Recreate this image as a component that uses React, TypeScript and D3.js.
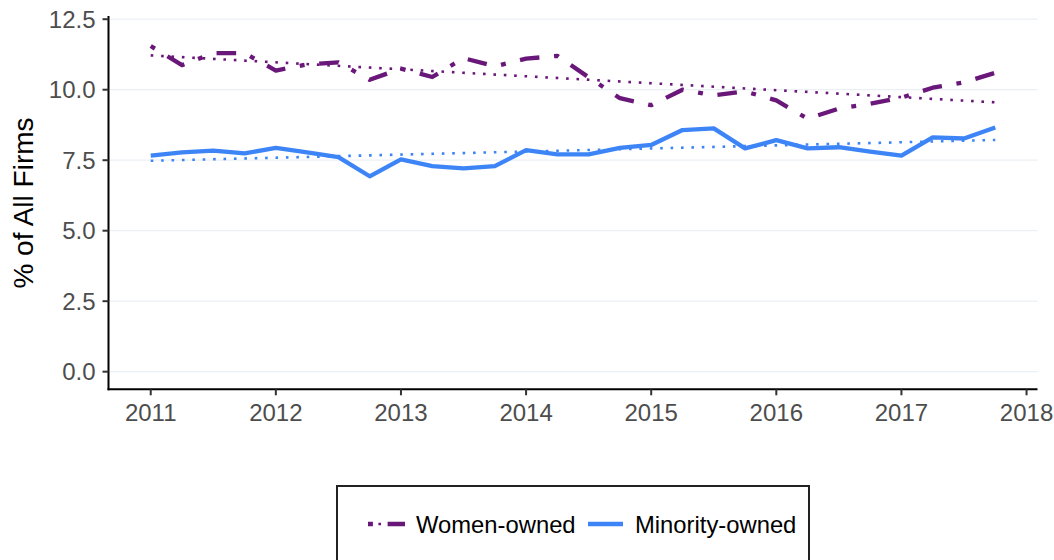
import * as d3 from 'd3';

const WIDTH = 1054;
const HEIGHT = 560;

// quarterly observations, 2011 Q1 .. 2017 Q4
const quarters = d3.range(28).map((i) => 2011 + i * 0.25);

const womenOwned = [
    11.55, 10.87, 11.3, 11.3, 10.68, 10.9, 10.97, 10.35,
    10.75, 10.45, 11.12, 10.83, 11.1, 11.2, 10.44, 9.7,
    9.45, 10.0, 9.8, 9.94, 9.62, 8.97, 9.33, 9.5,
    9.72, 10.07, 10.26, 10.6,
];

const minorityOwned = [
    7.66, 7.78, 7.84, 7.74, 7.94, 7.78, 7.61, 6.93,
    7.53, 7.29, 7.21, 7.29, 7.86, 7.71, 7.71, 7.94,
    8.04, 8.57, 8.63, 7.92, 8.21, 7.92, 7.96, 7.8,
    7.66, 8.31, 8.27, 8.66,
];

const xTicks = [2011, 2012, 2013, 2014, 2015, 2016, 2017, 2018];
const yTicks = [0, 2.5, 5, 7.5, 10, 12.5];

const PURPLE = '#6a177a';
const BLUE = '#3d85f7';
const DOTDASH = '4.9 14.7 19.6 14.7';
const DOTTED = '2.6 7.8';

// plain least squares fit, like geom_smooth(method = "lm", se = FALSE)
function linearFit(xs: number[], ys: number[]) {
    const mx = d3.mean(xs) as number;
    const my = d3.mean(ys) as number;
    let num = 0;
    let den = 0;
    xs.forEach((x, i) => {
        num += (x - mx) * (ys[i] - my);
        den += (x - mx) * (x - mx);
    });
    const slope = num / den;
    return (x: number) => my + slope * (x - mx);
}

const App = () => {
    const xScale = d3.scaleLinear().domain([2010.6625, 2018.0875]).range([108.5, 1037.5]);
    const yScale = d3.scaleLinear().domain([-0.625, 13.125]).range([389.3, 1.6]);

    const line = d3.line<number>()
        .x((_, i) => xScale(quarters[i]))
        .y((d) => yScale(d));

    const series = [
        { name: 'Women-owned', values: womenOwned, color: PURPLE, dash: DOTDASH },
        { name: 'Minority-owned', values: minorityOwned, color: BLUE, dash: null },
    ];

    const trendX = [quarters[0], quarters[quarters.length - 1]];

    const plotLeft = xScale.range()[0];
    const plotRight = xScale.range()[1];
    const plotBottom = yScale.range()[0];

    const font = 'Arial, "Liberation Sans", Helvetica, sans-serif';

    return (
        <div style={{ position: 'absolute', left: 0, top: 0 }}>
            <svg width={WIDTH} height={HEIGHT} style={{ display: 'block', background: '#fff' }} fontFamily={font}>
                {/* grid */}
                {yTicks.map((t) => (
                    <line key={'g' + t} x1={plotLeft} x2={plotRight} y1={yScale(t)} y2={yScale(t)}
                        stroke="#ebf0f5" strokeWidth={1.2} />
                ))}

                {/* trend lines */}
                {series.map((s) => {
                    const fit = linearFit(quarters, s.values);
                    return (
                        <line key={'t' + s.name}
                            x1={xScale(trendX[0])} y1={yScale(fit(trendX[0]))}
                            x2={xScale(trendX[1])} y2={yScale(fit(trendX[1]))}
                            stroke={s.color} strokeWidth={2.6} strokeDasharray={DOTTED} />
                    );
                })}

                {/* data lines */}
                {series.map((s) => (
                    <path key={'l' + s.name} d={line(s.values) || ''} fill="none"
                        stroke={s.color} strokeWidth={4.3}
                        strokeDasharray={s.dash || undefined}
                        strokeLinejoin="round" />
                ))}

                {/* axes */}
                <line x1={plotLeft} x2={plotLeft} y1={16} y2={plotBottom + 1} stroke="#000" strokeWidth={2} />
                <line x1={plotLeft - 1} x2={plotRight} y1={plotBottom} y2={plotBottom} stroke="#000" strokeWidth={2} />

                {yTicks.map((t) => (
                    <g key={'y' + t}>
                        <line x1={plotLeft - 6} x2={plotLeft} y1={yScale(t)} y2={yScale(t)} stroke="#333" strokeWidth={2} />
                        <text x={plotLeft - 13} y={yScale(t)} dy="0.36em" textAnchor="end"
                            fontSize={24} fill="#4d4d4d">{d3.format('.1f')(t)}</text>
                    </g>
                ))}

                {xTicks.map((t) => (
                    <g key={'x' + t}>
                        <line x1={xScale(t)} x2={xScale(t)} y1={plotBottom} y2={plotBottom + 6} stroke="#333" strokeWidth={2} />
                        <text x={xScale(t)} y={420.5} textAnchor="middle"
                            fontSize={24} fill="#4d4d4d">{t}</text>
                    </g>
                ))}

                <text transform="translate(33,203) rotate(-90)" textAnchor="middle"
                    fontSize={28} fill="#000">% of All Firms</text>

                {/* legend */}
                <rect x={337} y={486} width={472} height={100} fill="#fff" stroke="#222" strokeWidth={2} />
                <g>
                    <line x1={368} x2={405} y1={524} y2={524} stroke={PURPLE} strokeWidth={2.6} strokeDasharray={DOTTED} />
                    <line x1={368} x2={405} y1={524} y2={524} stroke={PURPLE} strokeWidth={4.3} strokeDasharray={DOTDASH} />
                    <text x={416} y={524} dy="0.36em" fontSize={23.8} fill="#000">Women-owned</text>

                    <line x1={588} x2={623} y1={524} y2={524} stroke={BLUE} strokeWidth={2.6} strokeDasharray={DOTTED} />
                    <line x1={588} x2={623} y1={524} y2={524} stroke={BLUE} strokeWidth={4.3} />
                    <text x={635} y={524} dy="0.36em" fontSize={23.8} fill="#000">Minority-owned</text>
                </g>
            </svg>
        </div>
    );
};

export default App;
